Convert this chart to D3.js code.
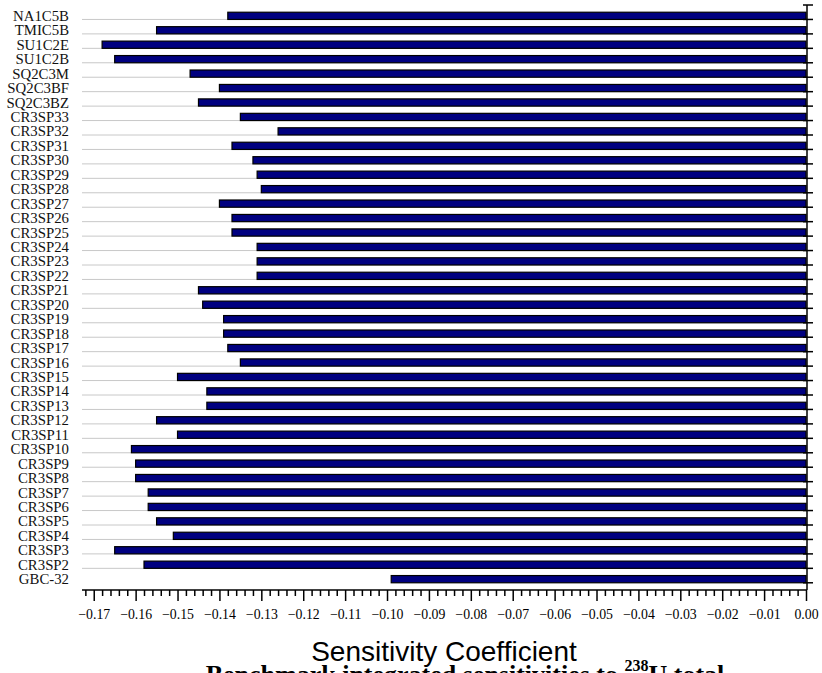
<!DOCTYPE html>
<html>
<head>
<meta charset="utf-8">
<script src="https://cdn.jsdelivr.net/npm/d3@7"></script>
<style>
  html, body { margin: 0; padding: 0; background: #fff; }
  svg { display: block; }
</style>
</head>
<body>
<svg id="chart" width="822" height="673"></svg>
<script>
// Cases, top to bottom
const categories = [
  "NA1C5B", "TMIC5B", "SU1C2E", "SU1C2B", "SQ2C3M", "SQ2C3BF", "SQ2C3BZ",
  "CR3SP33", "CR3SP32", "CR3SP31", "CR3SP30", "CR3SP29", "CR3SP28", "CR3SP27",
  "CR3SP26", "CR3SP25", "CR3SP24", "CR3SP23", "CR3SP22", "CR3SP21", "CR3SP20",
  "CR3SP19", "CR3SP18", "CR3SP17", "CR3SP16", "CR3SP15", "CR3SP14", "CR3SP13",
  "CR3SP12", "CR3SP11", "CR3SP10", "CR3SP9", "CR3SP8", "CR3SP7", "CR3SP6",
  "CR3SP5", "CR3SP4", "CR3SP3", "CR3SP2", "GBC-32"
];

// Integrated sensitivity coefficient per case
const sensitivity = [
  -0.138, -0.155, -0.168, -0.165, -0.147, -0.140, -0.145,
  -0.135, -0.126, -0.137, -0.132, -0.131, -0.130, -0.140,
  -0.137, -0.137, -0.131, -0.131, -0.131, -0.145, -0.144,
  -0.139, -0.139, -0.138, -0.135, -0.150, -0.143, -0.143,
  -0.155, -0.150, -0.161, -0.160, -0.160, -0.157, -0.157,
  -0.155, -0.151, -0.165, -0.158, -0.099
];

// Axis tick values
const majorTicks = [-0.17, -0.16, -0.15, -0.14, -0.13, -0.12, -0.11, -0.10, -0.09,
  -0.08, -0.07, -0.06, -0.05, -0.04, -0.03, -0.02, -0.01, 0.00];

const xTitle = "Sensitivity Coefficient";

const svg = d3.select("#chart");
const plot = { left: 82, right: 806, top: 5, bottom: 590 };

const x = d3.scaleLinear().domain([-0.1728, 0]).range([plot.left, plot.right]);
const y = d3.scaleBand().domain(categories).range([plot.top, plot.bottom]).padding(0.5);
const step = y.step();

// Light separators between rows
const boundaries = d3.range(1, categories.length).map(i => plot.top + i * step);
svg.append("g").selectAll("line").data(boundaries).join("line")
  .attr("x1", plot.left).attr("x2", plot.right)
  .attr("y1", d => d).attr("y2", d => d)
  .attr("stroke", "#c8c8c8").attr("stroke-width", 1);

// Bars
svg.append("g").selectAll("rect").data(categories).join("rect")
  .attr("x", (d, i) => x(sensitivity[i]))
  .attr("y", d => y(d))
  .attr("width", (d, i) => x(0) - x(sensitivity[i]))
  .attr("height", y.bandwidth())
  .attr("fill", "#000080")
  .attr("stroke", "#000")
  .attr("stroke-width", 1.2);

// Category labels
svg.append("g").selectAll("text").data(categories).join("text")
  .attr("x", 69)
  .attr("y", d => y(d) + y.bandwidth() / 2)
  .attr("text-anchor", "end")
  .attr("dominant-baseline", "central")
  .attr("font-family", "'Liberation Serif', 'Times New Roman', serif")
  .attr("font-size", "14.8px")
  .attr("fill", "#111")
  .text(d => d);

// Bottom axis with major and minor ticks
const minorTicks = d3.range(-172, 1, 2).map(v => v / 1000)
  .filter(v => !majorTicks.some(m => Math.abs(m - v) < 1e-9));

const xAxisMinor = d3.axisBottom(x).tickValues(minorTicks).tickSize(6).tickFormat("");
const xAxisMajor = d3.axisBottom(x).tickValues(majorTicks).tickSize(11).tickPadding(8)
  .tickFormat(d3.format(".2f"));

const gMinor = svg.append("g").attr("transform", `translate(0,${plot.bottom})`).call(xAxisMinor);
gMinor.select(".domain").remove();
gMinor.selectAll("line").attr("stroke", "#000").attr("stroke-width", 1.5);

const gMajor = svg.append("g").attr("transform", `translate(0,${plot.bottom})`).call(xAxisMajor);
gMajor.select(".domain").remove();
gMajor.selectAll("line").attr("stroke", "#000").attr("stroke-width", 1.5);
gMajor.selectAll("text")
  .attr("font-family", "'Liberation Serif', 'Times New Roman', serif")
  .attr("font-size", "13.8px")
  .attr("fill", "#000");

svg.append("line")
  .attr("x1", plot.left).attr("x2", plot.right + 1)
  .attr("y1", plot.bottom).attr("y2", plot.bottom)
  .attr("stroke", "#000").attr("stroke-width", 1.5);

// Right-hand category axis at zero
const xr = x(0) + 1;
svg.append("line")
  .attr("x1", xr).attr("x2", xr)
  .attr("y1", plot.top).attr("y2", plot.bottom)
  .attr("stroke", "#000").attr("stroke-width", 1.5);
svg.append("g").selectAll("line").data(d3.range(0, categories.length + 1)).join("line")
  .attr("x1", xr - 4).attr("x2", xr + 6)
  .attr("y1", i => plot.top + i * step).attr("y2", i => plot.top + i * step)
  .attr("stroke", "#000").attr("stroke-width", 1.5);

// Caption line below the title (runs past the bottom edge)
const cap = svg.append("text")
  .attr("x", 465).attr("y", 683)
  .attr("text-anchor", "middle")
  .attr("font-family", "'Liberation Serif', 'Times New Roman', serif")
  .attr("font-size", "26px")
  .attr("font-weight", "bold")
  .attr("fill", "#000");
cap.append("tspan").text("Benchmark integrated sensitivities to ");
cap.append("tspan").attr("font-size", "16px").attr("dy", -12).text("238");
cap.append("tspan").attr("dy", 12).text("U total");

// Axis title
svg.append("text")
  .attr("x", 444).attr("y", 661)
  .attr("text-anchor", "middle")
  .attr("font-family", "'Liberation Sans', Arial, sans-serif")
  .attr("font-size", "28px")
  .attr("fill", "#000")
  .text(xTitle);
</script>
</body>
</html>
